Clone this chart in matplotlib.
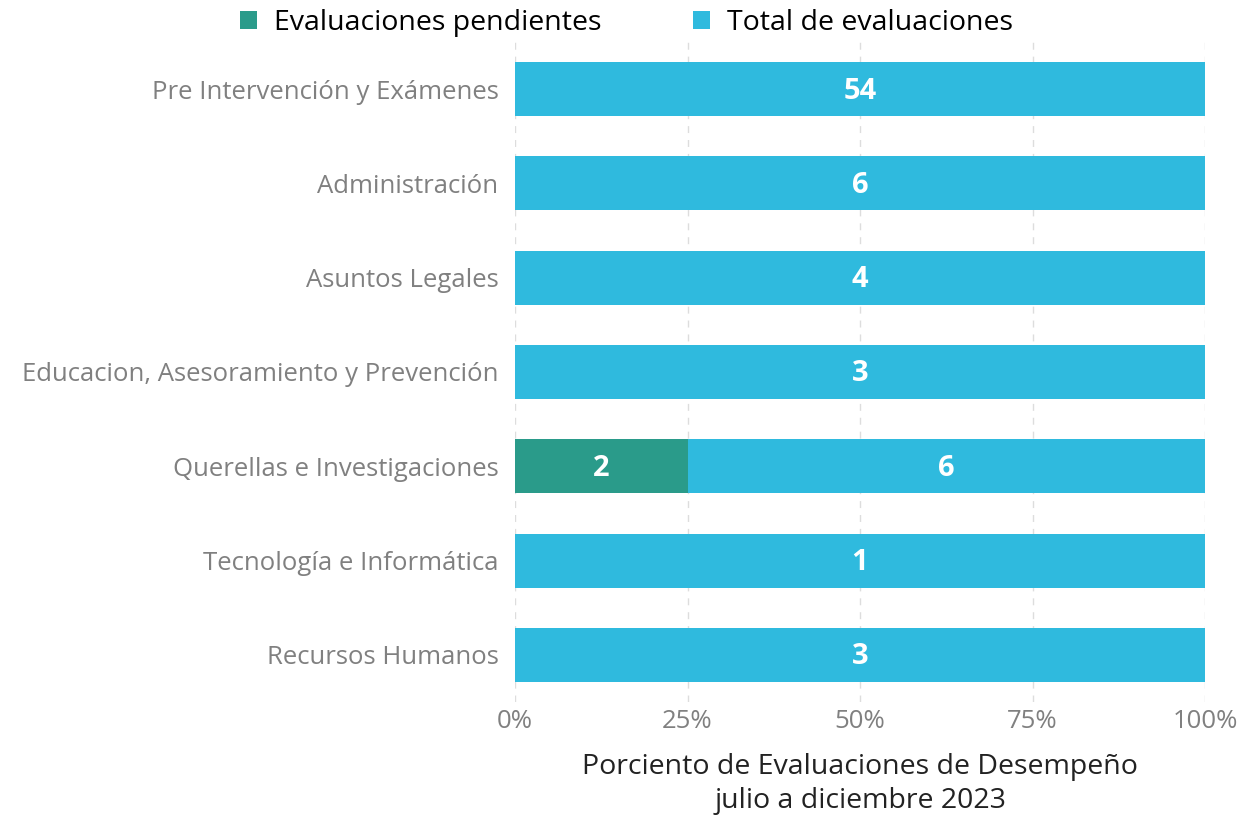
import matplotlib.pyplot as plt
import numpy as np

plt.rcParams['font.family'] = ['Open Sans', 'DejaVu Sans']

# datos
areas = ['Pre Intervención y Exámenes', 'Administración', 'Asuntos Legales',
         'Educacion, Asesoramiento y Prevención', 'Querellas e Investigaciones',
         'Tecnología e Informática', 'Recursos Humanos']
pendientes = [0, 0, 0, 0, 2, 0, 0]
total = [54, 6, 4, 3, 6, 1, 3]

c_pend = '#2a9b8a'
c_total = '#2fbade'

pend = np.array(pendientes, dtype=float)
tot = np.array(total, dtype=float)
suma = pend + tot
pend_pct = pend / suma * 100
tot_pct = tot / suma * 100
y = np.arange(len(areas))

fig = plt.figure(figsize=(12.45, 8.17), dpi=100)
ax = fig.add_axes([0.4137, 0.1408, 0.5542, 0.8078])

h = 0.573
b1 = ax.barh(y, pend_pct, height=h, color=c_pend, label='Evaluaciones pendientes', zorder=3)
b2 = ax.barh(y, tot_pct, left=pend_pct, height=h, color=c_total, label='Total de evaluaciones', zorder=3)

for i in range(len(areas)):
    if pend[i] > 0:
        ax.text(pend_pct[i] / 2, y[i] + 0.02, f'{pendientes[i]}', ha='center', va='center',
                color='white', fontsize=21, fontweight='bold', zorder=4)
    ax.text(pend_pct[i] + tot_pct[i] / 2, y[i] + 0.02, f'{total[i]}', ha='center', va='center',
            color='white', fontsize=21, fontweight='bold', zorder=4)

ax.set_ylim(len(areas) - 0.5, -0.5)
ax.set_xlim(0, 100)
ax.set_yticks(y)
ax.set_yticklabels(areas, fontsize=18.5, color='#808080')
ax.set_xticks([0, 25, 50, 75, 100])
ax.set_xticklabels(['0%', '25%', '50%', '75%', '100%'], fontsize=18.5, color='#808080')
ax.tick_params(length=0, pad=5)
ax.tick_params(axis='y', pad=12)
ax.grid(axis='x', color='#dddddd', linestyle=(0, (5, 5)), linewidth=1, zorder=0)
for s in ax.spines.values():
    s.set_visible(False)

ax.set_xlabel('Porciento de Evaluaciones de Desempeño\njulio a diciembre 2023',
              fontsize=20.5, color='#222222', labelpad=14, linespacing=1.25)

fig.legend(handles=[b1, b2], loc='upper center', bbox_to_anchor=(0.503, 1.02), ncol=2,
           frameon=False, fontsize=20.5, handlelength=0.6, handleheight=0.6,
           columnspacing=3.2, handletextpad=0.6)

fig.savefig('out.png', dpi=100)
